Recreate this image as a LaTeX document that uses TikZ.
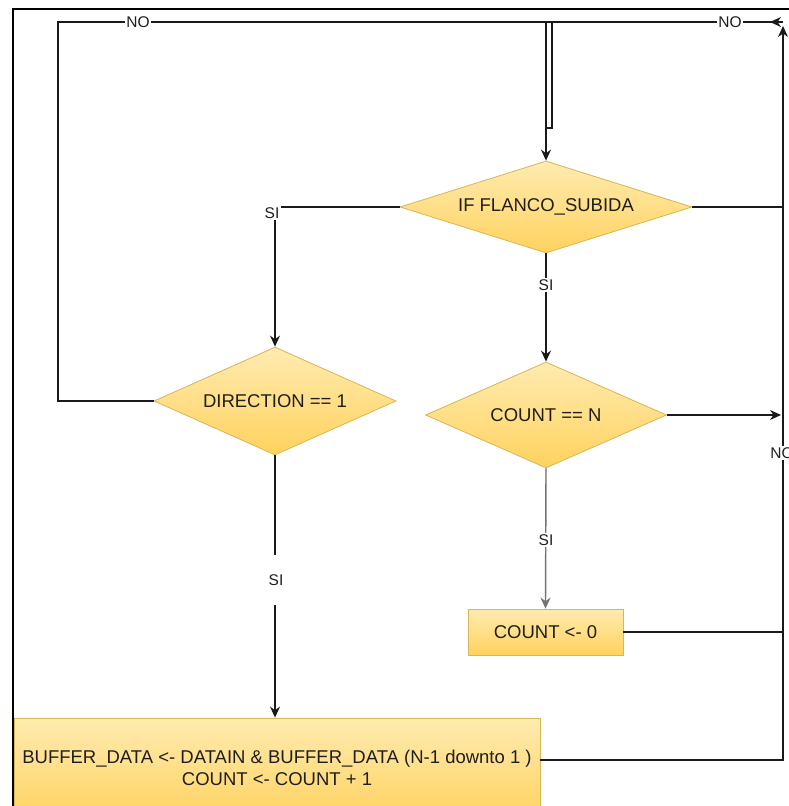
\documentclass[tikz,border=0pt]{standalone}
\usepackage{fontspec}
\setmainfont{Liberation Sans}
\usetikzlibrary{shapes.geometric,arrows.meta}
\definecolor{strokeY}{HTML}{D6B656}
\definecolor{fillTop}{HTML}{FFEBB0}
\definecolor{fillBot}{HTML}{FFD25E}
\definecolor{lineC}{HTML}{1A1A1A}
\definecolor{txtC}{HTML}{1E1E1E}
\begin{document}
\begin{tikzpicture}[x=1pt,y=-1pt,
  dec/.style={diamond, draw=strokeY, line width=0.8pt, top color=fillTop, bottom color=fillBot,
    inner sep=0pt, font=\fontsize{18.5}{21.5}\selectfont, text=txtC},
  proc/.style={rectangle, draw=strokeY, line width=0.8pt, top color=fillTop, bottom color=fillBot,
    inner sep=0pt, font=\fontsize{18.5}{21.5}\selectfont, text=txtC, align=center},
  conn/.style={draw=lineC, line width=1.4pt},
  arr/.style={conn, -{Stealth[length=11pt,width=10pt]}},
  lab/.style={fill=white, font=\fontsize{15.5}{17}\selectfont, inner sep=1.5pt, text=txtC},
  frame/.style={draw=black, line width=1.2pt}
]
\useasboundingbox (0,0) rectangle (789,806);
\clip (0,0) rectangle (789,806);
\fill[white] (0,0) rectangle (789,806);

% nodes
\node[dec, minimum width=292pt, minimum height=92pt, aspect=3] (d1) at (546,207) {IF FLANCO\_SUBIDA};
\node[dec, minimum width=242pt, minimum height=108pt, aspect=2.2] (d2) at (275,401) {DIRECTION == 1};
\node[dec, minimum width=241pt, minimum height=106pt, aspect=2.3] (d3) at (546,415) {COUNT == N};
\node[proc, minimum width=155pt, minimum height=46pt] (b1) at (545.5,632) {COUNT <- 0};
\node[proc, minimum width=526pt, minimum height=104pt] (b2) at (277,770) {};
\node[font=\fontsize{18.5}{21.5}\selectfont, text=txtC, align=center] (b2t) at (277,768)
  {BUFFER\_DATA <- DATAIN \& BUFFER\_DATA (N-1 downto 1 )\\COUNT <- COUNT + 1};

% helper coordinates
\coordinate (tl) at (58,22);
\coordinate (tr) at (783,22);
\coordinate (ta) at (770,22);
\coordinate (rt) at (783,26);
\coordinate (ax) at (781,0);
\coordinate (bx) at (540,760);
\coordinate (dA) at (552,22);
\coordinate (dB) at (552,128);
\coordinate (dC) at (546,128);

% connectors
\draw[conn] (d2.west) -| (tl) -- (tr);
\draw[arr] (tr) -- (ta);
\draw[arr] (bx) -| (rt);
\draw[arr] (d1.north |- tl) -- (d1.north);
\draw[conn] (dA) -- (dB) -- (dC);
\draw[conn] (d1.east) -- (d1.east -| tr);
\draw[arr] (d1.west) -| (d2.north);
\draw[arr] (d1.south) -- (d3.north);
\draw[arr] (d3.east) -- (d3.east -| ax);
\draw[arr, draw=black!55, fill=black] (d3.south) -- (b1.north);
\draw[conn] (b1.east) -- (b1.east -| tr);
\draw[arr] (d2.south) -- (d2.south |- b2.north);

% labels
\node[lab] (no1) at (138,22) {NO};
\node[lab] (no2) at (730,22) {NO};
\node[lab] (no3) at (782,453) {NO};
\node[lab] (si1) at (272,213) {SI};
\node[lab] (si2) at (546,285) {SI};
\node[lab] (si3) at (546,540) {SI};
\node[lab, minimum height=50pt] (si4) at (276,580) {SI};

% screenshot frame
\draw[frame] (789,9) -- (13,9) -- (13,806);
\end{tikzpicture}
\end{document}
